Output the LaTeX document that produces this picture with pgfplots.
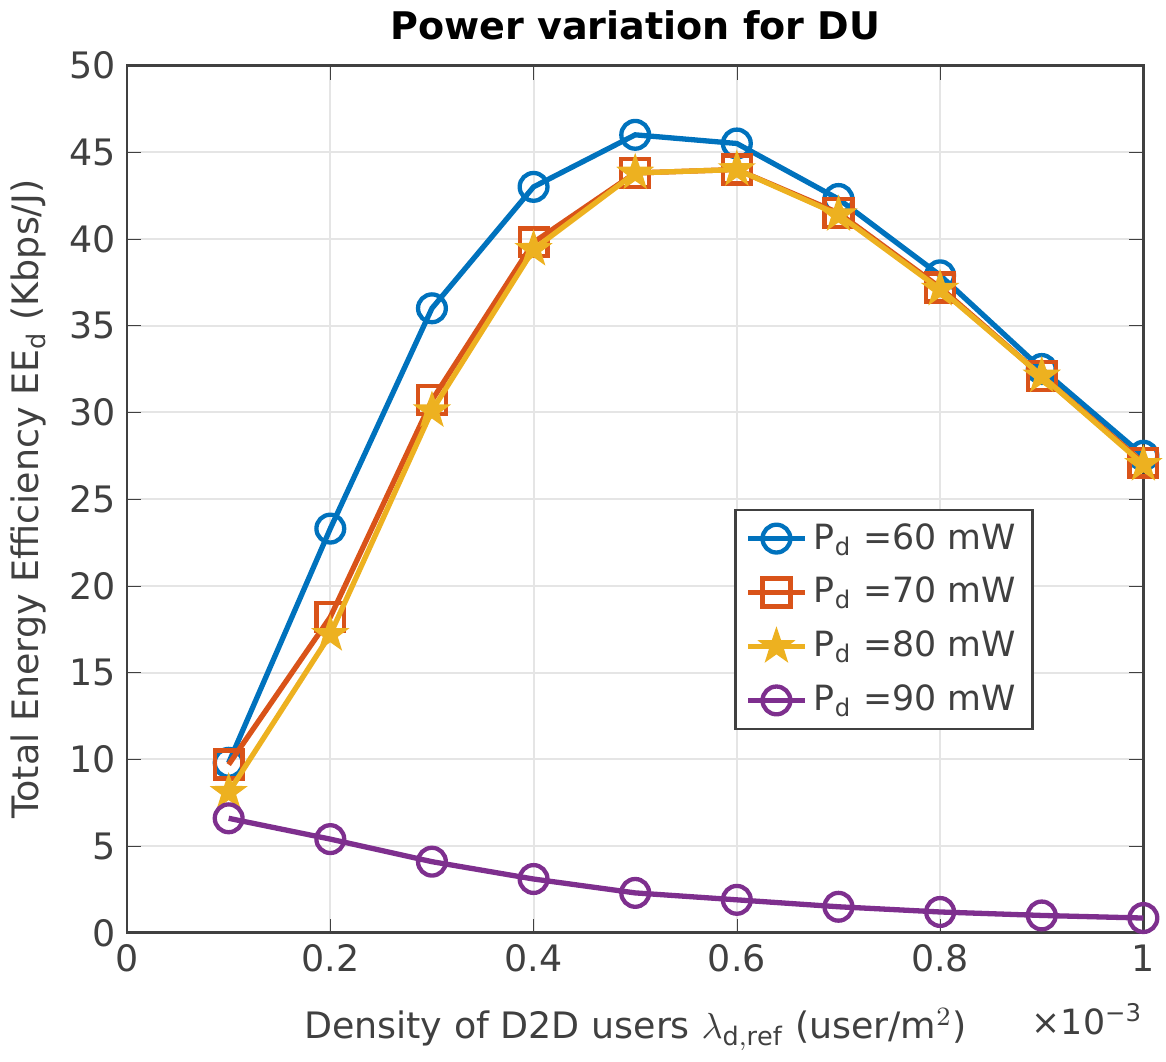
\documentclass[border=0pt]{standalone}
\usepackage{pgfplots}
\pgfplotsset{compat=1.18}
\usepackage{fontspec}
\setmainfont{DejaVu Sans}
\definecolor{mblue}{rgb}{0,0.447,0.741}
\definecolor{morange}{rgb}{0.85,0.325,0.098}
\definecolor{myellow}{rgb}{0.929,0.694,0.125}
\definecolor{mpurple}{rgb}{0.494,0.184,0.556}
\definecolor{tgray}{rgb}{0.25,0.25,0.25}
\pgfdeclareplotmark{pentagram}{%
  \pgfpathmoveto{\pgfpointpolar{90}{1.15\pgfplotmarksize}}%
  \pgfpathlineto{\pgfpointpolar{126}{0.45\pgfplotmarksize}}%
  \pgfpathlineto{\pgfpointpolar{162}{1.15\pgfplotmarksize}}%
  \pgfpathlineto{\pgfpointpolar{198}{0.45\pgfplotmarksize}}%
  \pgfpathlineto{\pgfpointpolar{234}{1.15\pgfplotmarksize}}%
  \pgfpathlineto{\pgfpointpolar{270}{0.45\pgfplotmarksize}}%
  \pgfpathlineto{\pgfpointpolar{306}{1.15\pgfplotmarksize}}%
  \pgfpathlineto{\pgfpointpolar{342}{0.45\pgfplotmarksize}}%
  \pgfpathlineto{\pgfpointpolar{18}{1.15\pgfplotmarksize}}%
  \pgfpathlineto{\pgfpointpolar{54}{0.45\pgfplotmarksize}}%
  \pgfpathclose
  \pgfusepathqfillstroke}
\begin{document}
\begin{tikzpicture}
\begin{axis}[
  scale only axis,
  width=307pt, height=262pt,
  xmin=0, xmax=1, ymin=0, ymax=50,
  xtick={0,0.2,0.4,0.6,0.8,1},
  xticklabels={0,0.2,0.4,0.6,0.8,1},
  ytick={0,5,...,50},
  grid=major,
  major grid style={gray!20, line width=0.6pt},
  axis line style={tgray, line width=0.8pt},
  tick style={tgray},
  tick align=inside,
  clip mode=individual,
  ticklabel style={font=\fontsize{11}{13}\selectfont, text=tgray},
  /pgf/number format/assume math mode=true,
  title={\textbf{Power variation for DU}},
  title style={font=\fontsize{11.5}{13}\selectfont, yshift=-2pt},
  xlabel={Density of D2D users $\lambda_{\mathrm{d,ref}}$ (user/m$^2$)},
  xlabel style={yshift=-4pt},
  ylabel={Total Energy Efficiency EE$_{\mathrm{d}}$ (Kbps/J)},
  label style={font=\fontsize{11}{13}\selectfont, text=tgray},
  legend style={at={(0.892,0.489)}, anchor=north east, draw=tgray, line width=0.8pt,
    font=\fontsize{10.5}{12}\selectfont, text=tgray, row sep=3pt},
  legend cell align=left,
  every axis plot/.append style={line width=1.6pt},
  mark size=4.2pt,
]
\addplot[mblue, mark=o, mark options={line width=1.3pt}] coordinates {
(0.1,9.8) (0.2,23.3) (0.3,36.0) (0.4,43.0) (0.5,46.0) (0.6,45.5) (0.7,42.3) (0.8,37.9) (0.9,32.5) (1.0,27.5)};
\addlegendentry{P$_{\mathrm{d}}$ =60 mW}
\addplot[morange, mark=square, mark options={line width=1.3pt}] coordinates {
(0.1,9.7) (0.2,18.2) (0.3,30.7) (0.4,39.8) (0.5,43.8) (0.6,44.0) (0.7,41.5) (0.8,37.2) (0.9,32.1) (1.0,27.1)};
\addlegendentry{P$_{\mathrm{d}}$ =70 mW}
\addplot[myellow, mark=pentagram, mark options={line width=0.8pt, fill=myellow}] coordinates {
(0.1,8.1) (0.2,17.2) (0.3,30.1) (0.4,39.4) (0.5,43.8) (0.6,44.0) (0.7,41.4) (0.8,37.1) (0.9,32.1) (1.0,27.0)};
\addlegendentry{P$_{\mathrm{d}}$ =80 mW}
\addplot[mpurple, mark=o, mark options={line width=1.3pt}] coordinates {
(0.1,6.6) (0.2,5.4) (0.3,4.1) (0.4,3.1) (0.5,2.3) (0.6,1.9) (0.7,1.5) (0.8,1.2) (0.9,1.0) (1.0,0.85)};
\addlegendentry{P$_{\mathrm{d}}$ =90 mW}
\node[anchor=east, inner sep=0pt, font=\fontsize{10.5}{12}\selectfont, text=tgray] at (axis description cs:1,-0.1) {×10\textsuperscript{−3}};
\end{axis}
\end{tikzpicture}
\end{document}
